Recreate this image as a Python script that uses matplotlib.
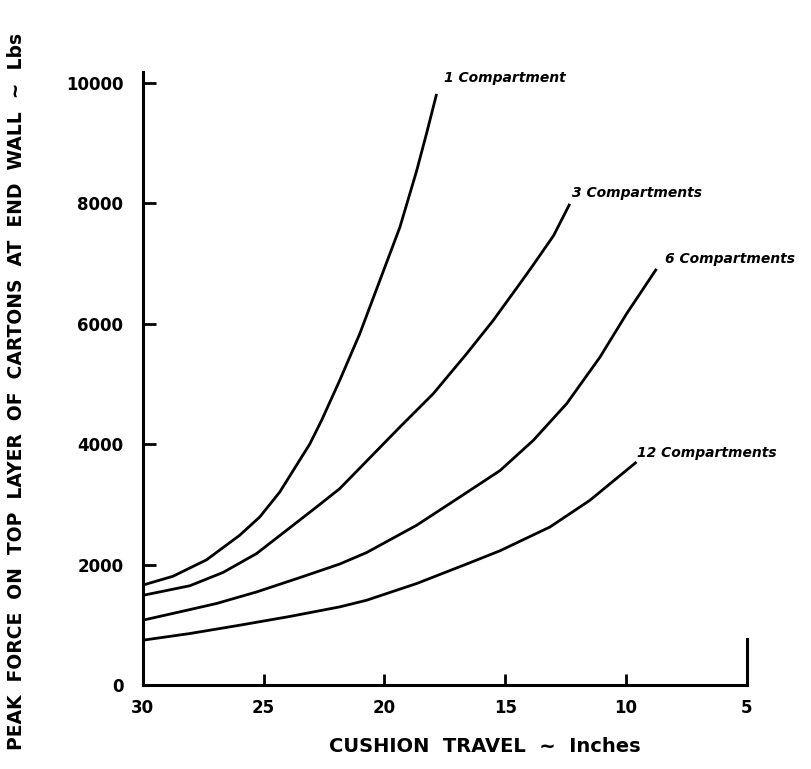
import numpy as np
import matplotlib.pyplot as plt

# curves (cushion travel in, peak force lbs)
x_1 = [30, 28.75, 27.36, 25.99, 25.16, 24.33, 23.64, 23.09, 22.6, 21.85,
       21.02, 20.19, 19.36, 18.67, 18.26, 17.84]
y_1 = [1660, 1807, 2080, 2487, 2790, 3205, 3648, 4000, 4394, 5057,
       5831, 6715, 7599, 8530, 9150, 9811]

x_3 = [30, 28.05, 26.68, 25.29, 23.92, 22.81, 21.85, 19.36, 17.98,
       16.6, 15.5, 14.4, 13.84, 13.0, 12.33]
y_3 = [1490, 1650, 1870, 2184, 2610, 2956, 3261, 4283, 4836,
       5499, 6052, 6660, 6975, 7460, 7987]

x_6 = [30, 28.47, 26.95, 25.29, 23.5, 21.85, 20.74, 18.67, 16.88, 15.22,
       13.84, 12.46, 11.08, 9.98, 8.74]
y_6 = [1078, 1216, 1355, 1547, 1785, 2010, 2200, 2653, 3122, 3560,
       4062, 4671, 5444, 6163, 6909]

x_12 = [30, 28.05, 25.99, 23.92, 21.85, 20.74, 18.67, 16.6, 15.22,
        13.15, 11.5, 9.57]
y_12 = [746, 857, 995, 1140, 1299, 1409, 1686, 2010, 2230,
        2625, 3067, 3703]

labels = ['1 Compartment', '3 Compartments', '6 Compartments', '12 Compartments']
label_x = [17.55, 12.25, 8.4, 9.55]
label_y = [10080, 8160, 7080, 3860]

xticks = [30, 25, 20, 15, 10, 5]
yticks = [0, 2000, 4000, 6000, 8000, 10000]
right_stub = 760   # short vertical line at x=5

fig = plt.figure(figsize=(8.11, 7.69), dpi=100)
ax = fig.add_axes([0.176, 0.109, 0.745, 0.797])

for xs, ys in [(x_1, y_1), (x_3, y_3), (x_6, y_6), (x_12, y_12)]:
    ax.plot(xs, ys, color='black', lw=2.0, solid_capstyle='butt',
            solid_joinstyle='round')

for lab, lx, ly in zip(labels, label_x, label_y):
    ax.text(lx, ly, lab, fontsize=10, fontweight='bold', fontstyle='italic',
            ha='left', va='center')

ax.set_xlim(30, 5)
ax.set_ylim(0, 10170)
ax.set_xticks(xticks)
ax.set_yticks(yticks)
ax.tick_params(axis='both', direction='in', width=2, labelsize=12, pad=10)
ax.tick_params(axis='y', length=9, pad=14)
ax.tick_params(axis='x', length=8)
for t in ax.get_xticklabels() + ax.get_yticklabels():
    t.set_fontweight('bold')

ax.spines['top'].set_visible(False)
ax.spines['right'].set_visible(False)
ax.spines['left'].set_linewidth(2.2)
ax.spines['bottom'].set_linewidth(2.2)
ax.axvline(5, ymin=0, ymax=right_stub / 10170, color='black', lw=2.2,
           clip_on=False)

ax.set_xlabel('CUSHION  TRAVEL  ~  Inches', fontsize=14, fontweight='bold')
ax.xaxis.set_label_coords(0.566, -0.085)
ax.set_ylabel('PEAK  FORCE  ON  TOP  LAYER  OF  CARTONS  AT  END  WALL  ~  Lbs',
              fontsize=13.5, fontweight='bold')
ax.yaxis.set_label_coords(-0.194, 0.48)

fig.savefig('out.png', dpi=100)
